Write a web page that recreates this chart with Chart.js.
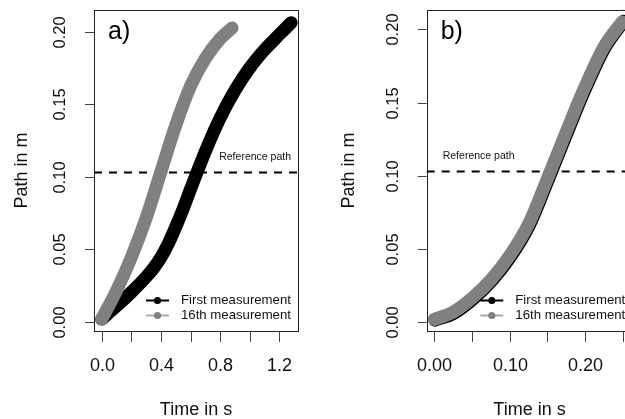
<!DOCTYPE html>
<html>
<head>
<meta charset="utf-8">
<script src="https://cdn.jsdelivr.net/npm/chart.js@4.4.1/dist/chart.umd.min.js"></script>
<style>
    body { margin: 0; background: #fff; width: 625px; height: 419px; overflow: hidden; position: relative; }
    #panelA { position: absolute; left: 0; top: 0; }
    #panelB { position: absolute; left: 320px; top: 0; }
</style>
</head>
<body>
<canvas id="panelA" width="320" height="419"></canvas>
<canvas id="panelB" width="330" height="419"></canvas>
<script>
// Series names
const seriesNames = ['First measurement', '16th measurement'];
const referencePath = 0.103;

// Panel a) - time (s) and path (m)
const timeFirstA = [0, 0.1, 0.2, 0.3, 0.35, 0.4, 0.45, 0.5, 0.55, 0.6, 0.7, 0.8, 0.9, 1.0, 1.1, 1.2, 1.28];
const pathFirstA = [0.002, 0.011, 0.0205, 0.031, 0.037, 0.0445, 0.054, 0.0655, 0.078, 0.0915, 0.1175, 0.1405, 0.1595, 0.175, 0.1875, 0.198, 0.2062];
const timeSixteenthA = [0, 0.1, 0.2, 0.3, 0.4, 0.5, 0.6, 0.7, 0.8, 0.88];
const pathSixteenthA = [0.002, 0.0215, 0.0445, 0.0715, 0.1035, 0.1355, 0.1625, 0.1815, 0.195, 0.2025];

// Panel b)
const timeFirstB = [0.001, 0.026, 0.051, 0.076, 0.101, 0.126, 0.151, 0.176, 0.201, 0.226, 0.251];
const pathFirstB = [0.0015, 0.0062, 0.0157, 0.0282, 0.0447, 0.0662, 0.0972, 0.1292, 0.1602, 0.1873, 0.2055];
const timeSixteenthB = [0, 0.025, 0.05, 0.075, 0.1, 0.125, 0.15, 0.175, 0.2, 0.225, 0.249];
const pathSixteenthB = [0.002, 0.007, 0.0165, 0.029, 0.0455, 0.067, 0.098, 0.13, 0.161, 0.188, 0.205];

// Axis ticks
const yTicks = [0, 0.05, 0.10, 0.15, 0.20];
const yTickLabels = ['0.00', '0.05', '0.10', '0.15', '0.20'];
const xTicksA = [0, 0.2, 0.4, 0.6, 0.8, 1.0, 1.2];
const xTickLabelsA = ['0.0', '', '0.4', '', '0.8', '', '1.2'];
const xTicksB = [0, 0.05, 0.10, 0.15, 0.20, 0.25];
const xTickLabelsB = ['0.00', '', '0.10', '', '0.20', ''];

const FONT = "'Liberation Sans', Arial, sans-serif";
const BLACK = '#000000';
const GREY = '#808080';

/**
 * Draws the base-graphics look: box, ticks, labels, reference line, legend
 */
const basePlot = {
    id: 'basePlot',
    beforeDatasetsDraw(chart, args, opts) {
        const ctx = chart.ctx;
        const area = chart.chartArea;
        const yPx = chart.scales.y.getPixelForValue(referencePath);

        ctx.save();
        ctx.strokeStyle = '#000';
        ctx.lineWidth = 2;
        ctx.setLineDash([8, 7]);
        ctx.beginPath();
        ctx.moveTo(area.left, yPx);
        ctx.lineTo(area.right, yPx);
        ctx.stroke();
        ctx.setLineDash([]);

        ctx.fillStyle = '#111';
        ctx.font = '10.5px ' + FONT;
        ctx.textBaseline = 'middle';
        if (opts.refAlign === 'right') {
            ctx.textAlign = 'right';
            ctx.fillText('Reference path', area.right - 7, yPx - 15);
        } else {
            ctx.textAlign = 'left';
            ctx.fillText('Reference path', area.left + 16, yPx - 15);
        }
        ctx.restore();
    },
    afterDraw(chart, args, opts) {
        const ctx = chart.ctx;
        const area = chart.chartArea;
        const xs = chart.scales.x;
        const ys = chart.scales.y;

        ctx.save();
        // box
        ctx.strokeStyle = '#222';
        ctx.lineWidth = 1;
        ctx.strokeRect(Math.round(area.left) + 0.5, Math.round(area.top) + 0.5,
            Math.round(area.right - area.left), Math.round(area.bottom - area.top));

        // y axis ticks and rotated labels
        ctx.strokeStyle = '#444';
        ctx.fillStyle = '#111';
        ctx.font = '16.5px ' + FONT;
        ctx.textAlign = 'center';
        ctx.textBaseline = 'middle';
        yTicks.forEach((v, i) => {
            const p = Math.round(ys.getPixelForValue(v)) + 0.5;
            ctx.beginPath();
            ctx.moveTo(area.left, p);
            ctx.lineTo(area.left - 9, p);
            ctx.stroke();
            ctx.save();
            ctx.translate(area.left - 33.5, p);
            ctx.rotate(-Math.PI / 2);
            ctx.fillText(yTickLabels[i], 0, 0);
            ctx.restore();
        });

        // x axis ticks and labels
        ctx.font = '18px ' + FONT;
        opts.xTicks.forEach((v, i) => {
            const p = Math.round(xs.getPixelForValue(v)) + 0.5;
            ctx.beginPath();
            ctx.moveTo(p, area.bottom);
            ctx.lineTo(p, area.bottom + 11);
            ctx.stroke();
            if (opts.xTickLabels[i]) {
                ctx.fillText(opts.xTickLabels[i], p, area.bottom + 35);
            }
        });

        // axis titles
        ctx.fillText('Time in s', (area.left + area.right) / 2, 410);
        ctx.save();
        ctx.translate(area.left - opts.yTitleOffset, (area.top + area.bottom) / 2);
        ctx.rotate(-Math.PI / 2);
        ctx.fillText('Path in m', 0, 0);
        ctx.restore();

        // panel letter
        ctx.font = '25px ' + FONT;
        ctx.textAlign = 'left';
        ctx.textBaseline = 'alphabetic';
        ctx.fillStyle = '#000';
        ctx.fillText(opts.panel, area.left + opts.panelDx, 39);

        // legend
        const rows = [
            { name: seriesNames[0], line: BLACK, dot: BLACK, y: area.bottom - 30.5 },
            { name: seriesNames[1], line: '#aaaaaa', dot: GREY, y: area.bottom - 15.5 }
        ];
        ctx.font = '13.2px ' + FONT;
        ctx.textBaseline = 'middle';
        rows.forEach(r => {
            ctx.strokeStyle = r.line;
            ctx.lineWidth = 2;
            ctx.beginPath();
            ctx.moveTo(area.right - 152, r.y);
            ctx.lineTo(area.right - 129, r.y);
            ctx.stroke();
            ctx.fillStyle = r.dot;
            ctx.beginPath();
            ctx.arc(area.right - 140.5, r.y, 3.6, 0, Math.PI * 2);
            ctx.fill();
            ctx.fillStyle = '#111';
            ctx.fillText(r.name, area.right - 117, r.y);
        });
        ctx.restore();
    }
};

/**
 * Build a line dataset from time / path arrays
 */
function makeSeries(label, times, paths, color, order) {
    return {
        label: label,
        data: times.map((t, i) => ({ x: t, y: paths[i] })),
        borderColor: color,
        backgroundColor: color,
        borderWidth: 13,
        borderCapStyle: 'round',
        borderJoinStyle: 'round',
        cubicInterpolationMode: 'monotone',
        pointRadius: 0,
        fill: false,
        order: order
    };
}

/**
 * Create one panel
 */
function makePanel(canvasId, series, xRange, yRange, padding, plotOpts) {
    return new Chart(document.getElementById(canvasId), {
        type: 'line',
        data: { datasets: series },
        options: {
            responsive: false,
            animation: false,
            events: [],
            layout: { padding: padding },
            plugins: {
                legend: { display: false },
                tooltip: { enabled: false },
                basePlot: plotOpts
            },
            scales: {
                x: { type: 'linear', min: xRange[0], max: xRange[1], display: false },
                y: { type: 'linear', min: yRange[0], max: yRange[1], display: false }
            }
        },
        plugins: [basePlot]
    });
}

makePanel('panelA', [
    makeSeries(seriesNames[0], timeFirstA, pathFirstA, BLACK, 1),
    makeSeries(seriesNames[1], timeSixteenthA, pathSixteenthA, GREY, 0)
], [-0.052, 1.326], [-0.0062, 0.2149],
    { left: 94, right: 22, top: 10, bottom: 88 },
    { panel: 'a)', panelDx: 14, xTicks: xTicksA, xTickLabels: xTickLabelsA, refAlign: 'right', yTitleOffset: 72 });

makePanel('panelB', [
    makeSeries(seriesNames[0], timeFirstB, pathFirstB, BLACK, 1),
    makeSeries(seriesNames[1], timeSixteenthB, pathSixteenthB, GREY, 0)
], [-0.0101, 0.2626], [-0.0059, 0.2132],
    { left: 106.7, right: 17.7, top: 10, bottom: 88 },
    { panel: 'b)', panelDx: 14, xTicks: xTicksB, xTickLabels: xTickLabelsB, refAlign: 'left', yTitleOffset: 78 });
</script>
</body>
</html>
